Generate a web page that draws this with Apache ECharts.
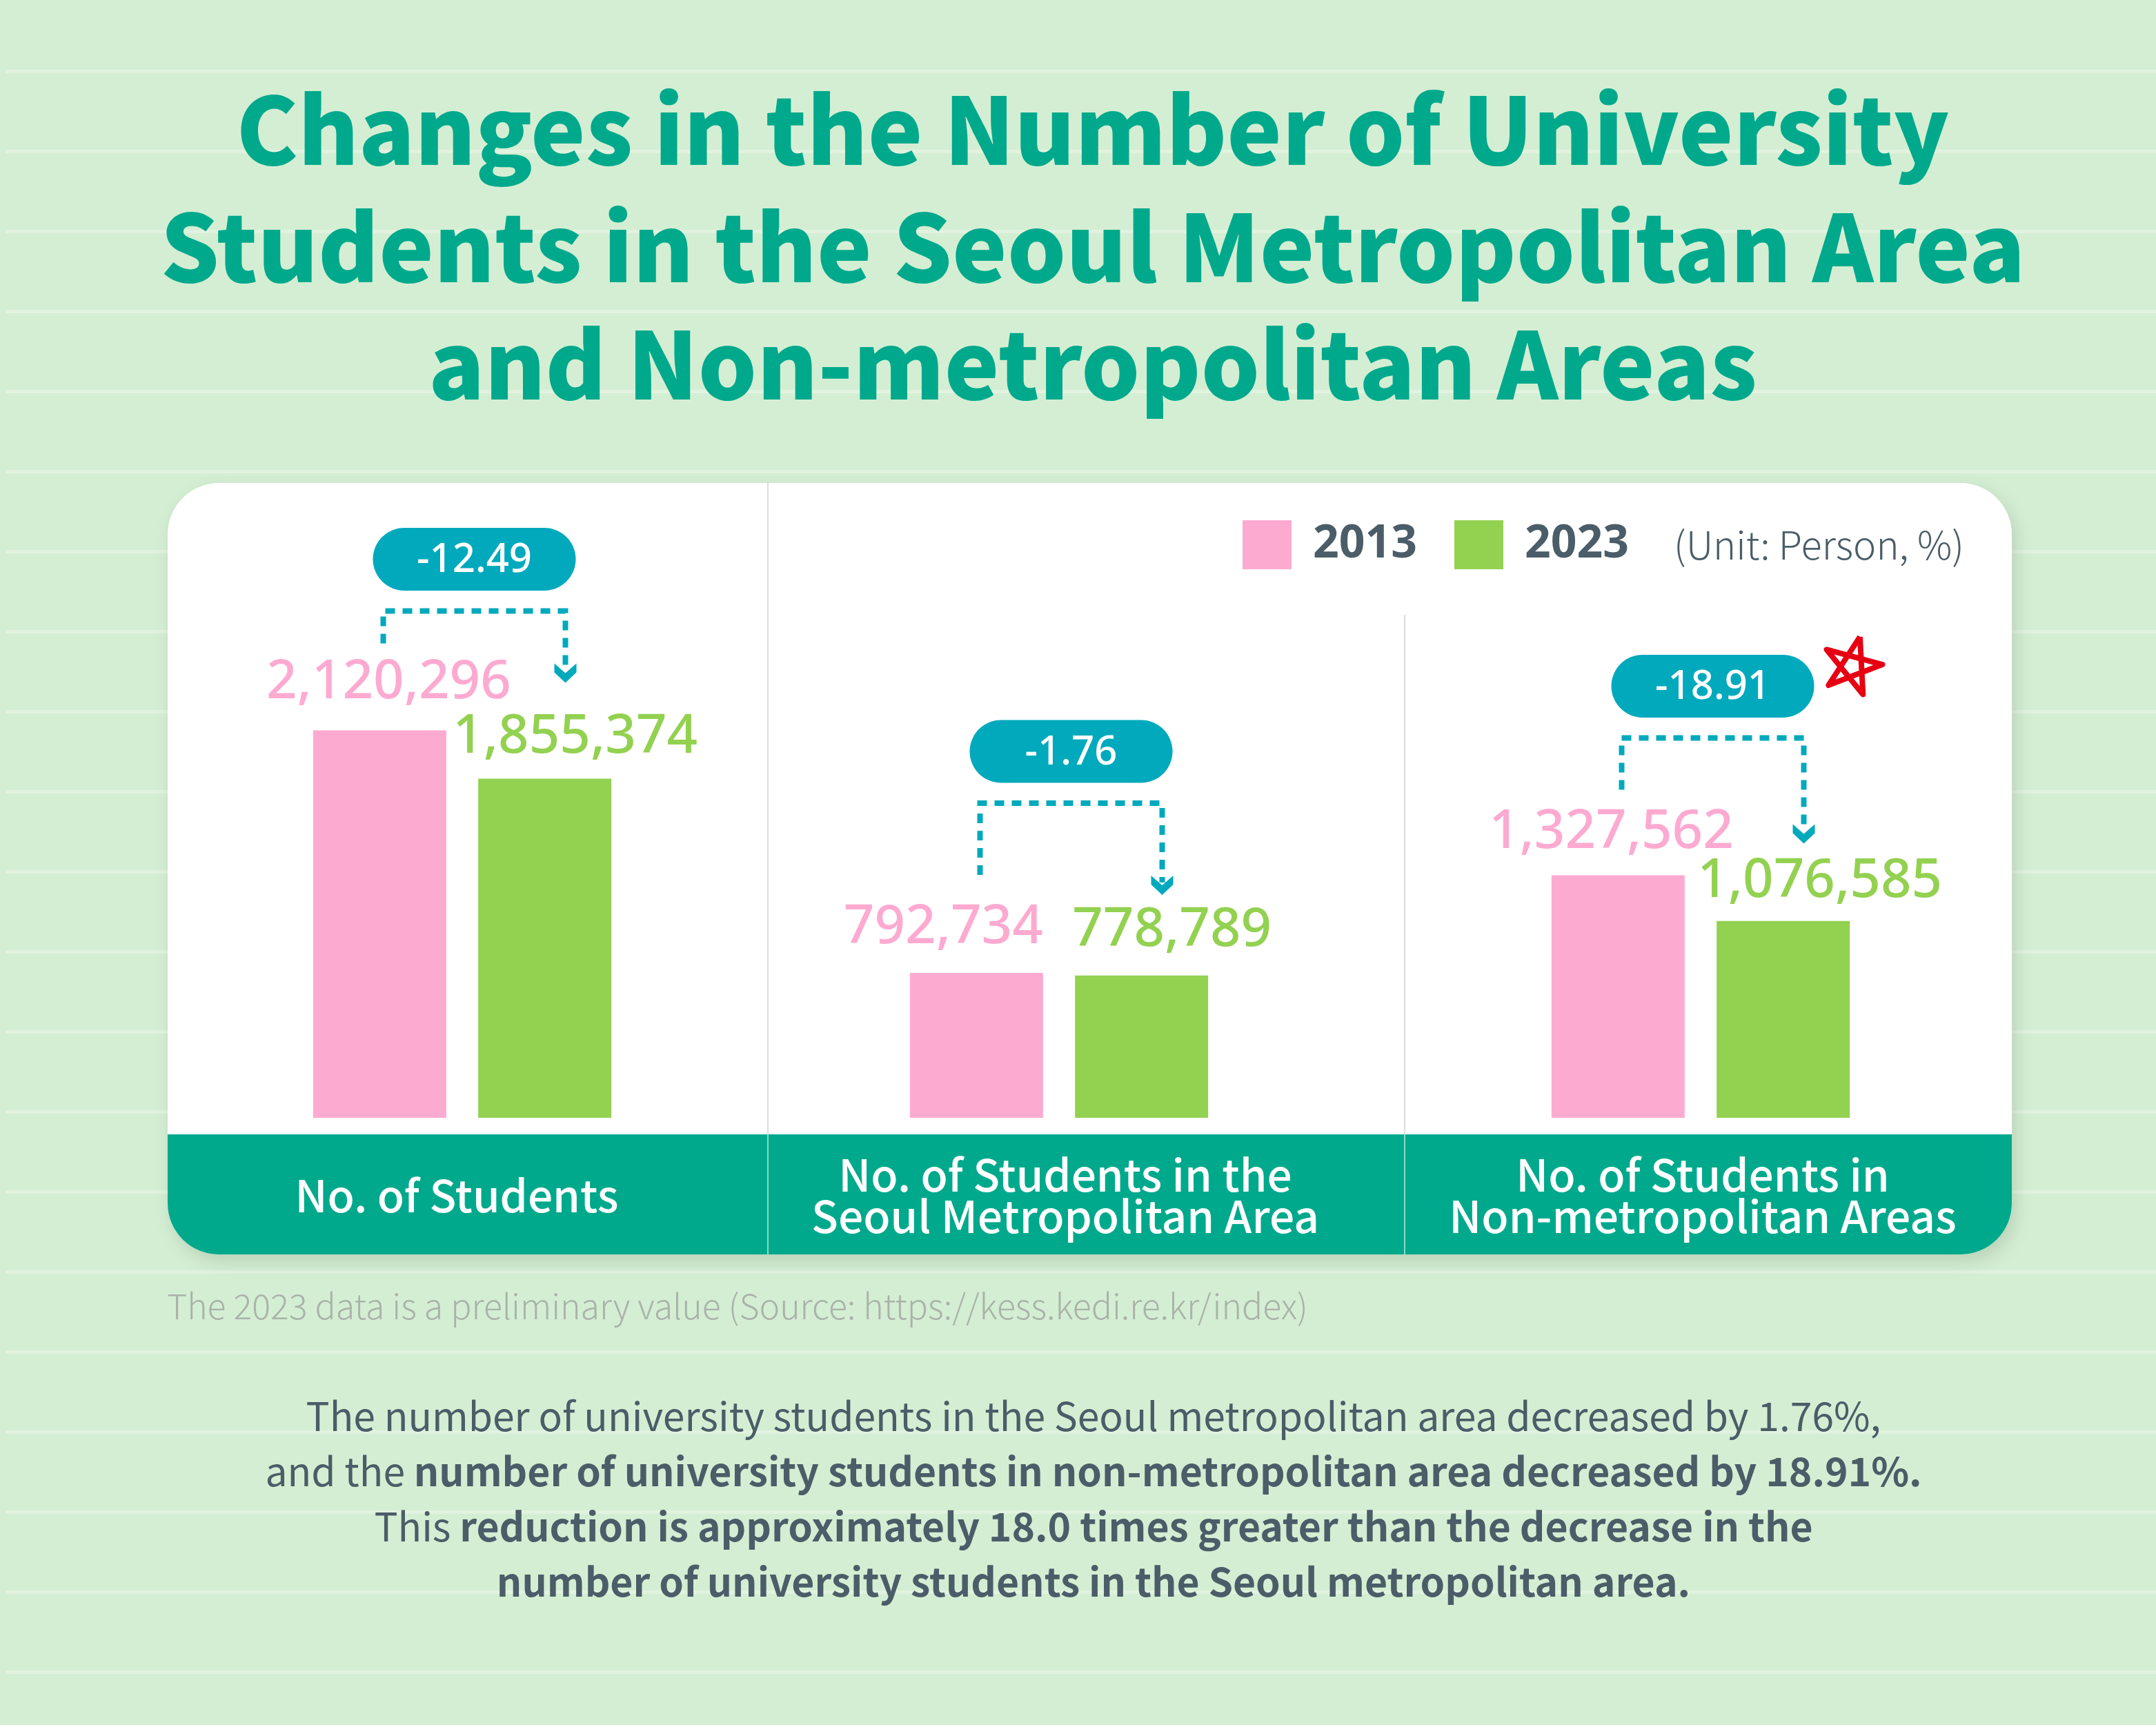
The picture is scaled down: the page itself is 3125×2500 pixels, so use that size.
<!DOCTYPE html>
<html>
<head>
<meta charset="utf-8">
<script src="https://cdn.jsdelivr.net/npm/echarts@6/dist/echarts.min.js"></script>
<style>
  html, body { margin: 0; padding: 0; background: #d4eed3; }
  #chart-container { width: 3125px; height: 2500px; }
</style>
</head>
<body>
<div id="chart-container"></div>
<script>
var dom = document.getElementById("chart-container");
var myChart = echarts.init(dom, null, { renderer: "canvas" });

// DATA
const categories = [
  "No. of Students",
  "No. of Students in the\nSeoul Metropolitan Area",
  "No. of Students in\nNon-metropolitan Areas",
];
const years = ["2013", "2023"];
const values2013 = [2120296, 792734, 1327562];
const values2023 = [1855374, 778789, 1076585];
const changes = [-12.49, -1.76, -18.91];

// layout (pixels) for the three panels
const gridCenters = [670, 1535, 2465];
const footerShift = [-16, 18, 6];
const labelOffset2013 = [[13, -25], [-48, -21], [-10, -18]];
const labelOffset2023 = [[44, -16], [44, -21], [53, -13]];
// bracket: horizontal line, left end, arrow tip (relative to 2013 bar top)
const bracketDy = [[-173, -126, -69], [-246, -142, -113], [-199, -124, -46]];

const PINK = "#fdaad1";
const GREEN = "#93d151";
const TEAL = "#00a98c";
const BLUE = "#01a9bd";
const SLATE = "#4a5d68";

const fmt = (v) => v.toLocaleString("en-US");

// background decorations
const baseGraphic = [];
for (let y = 103; y < 2500; y += 116) {
  baseGraphic.push({
    type: "rect",
    z: -10,
    shape: { x: 8, y: y - 2, width: 3117, height: 5 },
    style: { fill: "#e1f3df" },
  });
}
baseGraphic.push(
  {
    type: "rect",
    z: -5,
    shape: { x: 243, y: 700, width: 2673, height: 1118, r: 74 },
    style: {
      fill: "#ffffff",
      shadowBlur: 24,
      shadowOffsetX: 6,
      shadowOffsetY: 10,
      shadowColor: "rgba(60,90,60,0.18)",
    },
  },
  {
    type: "rect",
    z: -4,
    shape: { x: 243, y: 1644, width: 2673, height: 174, r: [0, 0, 74, 74] },
    style: { fill: TEAL },
  },
  {
    type: "line",
    z: -3,
    shape: { x1: 1113, y1: 700, x2: 1113, y2: 1644 },
    style: { stroke: "#dcdcdc", lineWidth: 2 },
  },
  {
    type: "line",
    z: -3,
    shape: { x1: 2036, y1: 891, x2: 2036, y2: 1644 },
    style: { stroke: "#dcdcdc", lineWidth: 2 },
  },
  {
    type: "line",
    z: -3,
    shape: { x1: 1113, y1: 1644, x2: 1113, y2: 1818 },
    style: { stroke: "rgba(255,255,255,0.55)", lineWidth: 2 },
  },
  {
    type: "line",
    z: -3,
    shape: { x1: 2036, y1: 1644, x2: 2036, y2: 1818 },
    style: { stroke: "rgba(255,255,255,0.55)", lineWidth: 2 },
  },
  {
    type: "text",
    x: 1584,
    y: 358,
    style: {
      text: "Changes in the Number of University\nStudents in the Seoul Metropolitan Area\nand Non-metropolitan Areas",
      fill: TEAL,
      fontFamily: "'Noto Sans CJK KR', sans-serif",
      fontWeight: 900,
      fontSize: 134,
      lineHeight: 170,
      align: "center",
      verticalAlign: "middle",
    },
  },
  {
    type: "text",
    x: 2426,
    y: 790,
    style: {
      text: "(Unit: Person, %)",
      fill: SLATE,
      fontFamily: "'Noto Sans CJK KR'",
      fontWeight: 300,
      fontSize: 56,
      verticalAlign: "middle",
    },
  },
  {
    type: "text",
    x: 242,
    y: 1893,
    style: {
      text: "The 2023 data is a preliminary value (Source: https://kess.kedi.re.kr/index)",
      fill: "#a9b3a9",
      fontFamily: "'Noto Sans CJK KR'",
      fontWeight: 300,
      fontSize: 50,
      verticalAlign: "middle",
    },
  },
  {
    type: "text",
    x: 1585,
    y: 2172,
    style: {
      text:
        "{r|The number of university students in the Seoul metropolitan area decreased by " +
        Math.abs(changes[1]) + "%,}\n" +
        "{r|and the }{b|number of university students in non-metropolitan area decreased by " +
        Math.abs(changes[2]) + "%.}\n" +
        "{r|This }{b|reduction is approximately 18.0 times greater than the decrease in the}\n" +
        "{b|number of university students in the Seoul metropolitan area.}",
      align: "center",
      verticalAlign: "middle",
      rich: {
        r: { fill: SLATE, fontFamily: "'Noto Sans CJK KR'", fontWeight: 400, fontSize: 57, lineHeight: 80 },
        b: { fill: SLATE, fontFamily: "'Noto Sans CJK KR'", fontWeight: 700, fontSize: 57, lineHeight: 80 },
      },
    },
  }
);

const grids = [], xAxes = [], yAxes = [], series = [];
gridCenters.forEach((c, i) => {
  grids.push({ left: c - 300, width: 600, top: 693, bottom: 880 });
  const sh = footerShift[i];
  xAxes.push({
    type: "category",
    gridIndex: i,
    data: [categories[i]],
    z: 10,
    axisLine: { show: false },
    axisTick: { show: false },
    axisLabel: {
      color: "#ffffff",
      fontFamily: "'Noto Sans CJK KR'",
      fontWeight: 500,
      fontSize: 64,
      lineHeight: 60,
      margin: 113,
      verticalAlign: "middle",
      align: "center",
      padding: [0, Math.max(0, -sh), 0, Math.max(0, sh)],
    },
  });
  yAxes.push({ type: "value", gridIndex: i, min: 0, max: 3500000, show: false });
  [[values2013, labelOffset2013, PINK, years[0]], [values2023, labelOffset2023, GREEN, years[1]]].forEach(
    ([vals, offs, color, name]) => {
      series.push({
        name: name,
        type: "bar",
        xAxisIndex: i,
        yAxisIndex: i,
        barWidth: 193,
        barGap: "24%",
        itemStyle: { color: color },
        label: {
          show: true,
          position: "top",
          color: color,
          fontFamily: "'Noto Sans'",
          fontWeight: 500,
          fontSize: 78,
          formatter: (p) => fmt(p.value),
        },
        data: [{ value: vals[i], label: { offset: offs[i] } }],
      });
    }
  );
});

var option = {
  backgroundColor: "#d4eed3",
  animation: false,
  legend: {
    left: 1796,
    top: 749,
    itemWidth: 71,
    itemHeight: 71,
    itemGap: 54,
    data: [
      { name: years[0], icon: "rect", itemStyle: { color: PINK } },
      { name: years[1], icon: "rect", itemStyle: { color: GREEN } },
    ],
    textStyle: {
      color: SLATE,
      fontFamily: "'Noto Sans'",
      fontWeight: "bold",
      fontSize: 66,
      padding: [0, 0, 0, 26],
    },
  },
  grid: grids,
  xAxis: xAxes,
  yAxis: yAxes,
  series: series,
  graphic: baseGraphic,
};

myChart.setOption(option);

// annotations: percentage badges with dotted brackets
const annot = [];
gridCenters.forEach((c, i) => {
  const cx = myChart.convertToPixel({ xAxisIndex: i }, 0);
  const top = myChart.convertToPixel({ yAxisIndex: i }, values2013[i]);
  const lx = cx - 119.5 + 5;
  const rx = cx + 119.5 + 30;
  const [hy, ly, tip] = bracketDy[i].map((d) => top + d);
  const mid = (lx + rx) / 2;
  const by = hy - 75;
  annot.push(
    {
      type: "polyline",
      z: 50,
      shape: { points: [[lx, ly], [lx, hy], [rx, hy], [rx, tip - 18]] },
      style: { stroke: BLUE, lineWidth: 8, lineDash: [14, 11], fill: null },
    },
    {
      type: "polygon",
      z: 50,
      shape: {
        points: [[rx - 16, tip - 28], [rx, tip - 14], [rx + 16, tip - 28], [rx + 16, tip - 15], [rx, tip], [rx - 16, tip - 15]],
      },
      style: { fill: BLUE },
    },
    {
      type: "rect",
      z: 50,
      shape: { x: mid - 147, y: by - 45.5, width: 294, height: 91, r: 45.5 },
      style: { fill: BLUE },
    },
    {
      type: "text",
      z: 51,
      x: mid,
      y: by + 2,
      style: {
        text: changes[i].toFixed(2),
        fill: "#ffffff",
        fontFamily: "'Noto Sans'",
        fontWeight: 500,
        fontSize: 58,
        align: "center",
        verticalAlign: "middle",
      },
    }
  );
  if (i === 2) {
    // hand-drawn style red star next to the largest drop
    const sx = mid + 202, sy = by - 29, r = 44;
    const pts = [];
    for (let k = 0; k <= 5; k++) {
      const a = ((-90 + 15 + k * 144) * Math.PI) / 180;
      pts.push([sx + r * Math.cos(a), sy + r * Math.sin(a)]);
    }
    annot.push({
      type: "polyline",
      z: 52,
      shape: { points: pts },
      style: { stroke: "#e60012", lineWidth: 8, lineJoin: "round", fill: null },
    });
  }
});

myChart.setOption({ graphic: baseGraphic.concat(annot) });

window.addEventListener("resize", myChart.resize);
</script>
</body>
</html>
